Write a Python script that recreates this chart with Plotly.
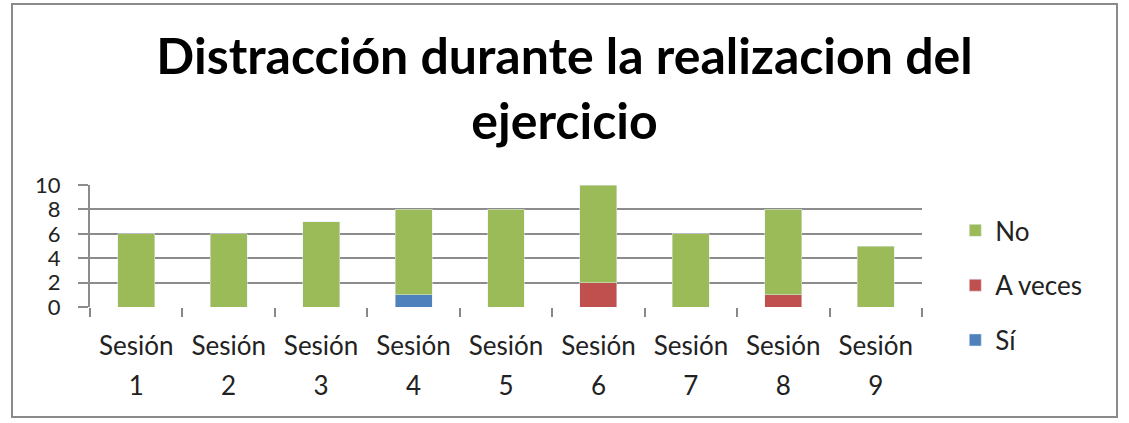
import plotly.graph_objects as go

categories = ["Sesión 1", "Sesión 2", "Sesión 3", "Sesión 4", "Sesión 5",
              "Sesión 6", "Sesión 7", "Sesión 8", "Sesión 9"]
si = [0, 0, 0, 1, 0, 0, 0, 0, 0]
a_veces = [0, 0, 0, 0, 0, 2, 0, 1, 0]
no = [6, 6, 7, 7, 8, 8, 6, 7, 5]
y_ticks = [0, 2, 4, 6, 8, 10]

line1 = [c.split(" ")[0] for c in categories]
line2 = [c.split(" ")[1] for c in categories]

FONT = "Lato"
fig = go.Figure()
fig.add_bar(x=categories, y=si, name="Sí", marker_color="#4F81BD", legendgroup="a", legendrank=3)
fig.add_bar(x=categories, y=a_veces, name="A veces", marker_color="#C0504D", legendgroup="b", legendrank=2)
fig.add_bar(x=categories, y=no, name="No", marker_color="#9BBB59", legendgroup="c", legendrank=1)

fig.update_layout(
    width=1129, height=423,
    barmode="stack", bargap=0.6,
    paper_bgcolor="white", plot_bgcolor="white",
    margin=dict(l=90, r=207, t=185, b=116),
    font=dict(family=FONT, color="#222", size=26),
    title=dict(text="<b>Distracción durante la realizacion del<br>ejercicio</b>",
               x=0.5, xanchor="center", y=0.826, yanchor="middle",
               font=dict(size=50, color="#000", family=FONT)),
    legend=dict(x=1.04, xanchor="left", y=0.82, yanchor="top",
                traceorder="grouped", tracegroupgap=18, maxheight=400,
                font=dict(size=26, family=FONT), bgcolor="rgba(0,0,0,0)"),
    showlegend=True,
    xaxis=dict(type="category", categoryarray=categories, tickvals=categories, ticktext=line1,
               tickson="boundaries", ticks="outside", ticklen=9, tickcolor="#888", tickwidth=2,
               showline=False, showgrid=False, ticklabelstandoff=21),
    xaxis2=dict(type="category", overlaying="x", matches="x", side="bottom",
                categoryarray=categories, tickvals=categories, ticktext=line2,
                ticks="", showgrid=False, showline=False, ticklabelstandoff=61),
    yaxis=dict(range=[0, 10], tickvals=y_ticks, showgrid=True, gridcolor="#8c8c8c", gridwidth=2,
               showline=True, linecolor="#8c8c8c", linewidth=2, ticks="outside", ticklen=10,
               tickcolor="#8c8c8c", tickwidth=2, zeroline=False, ticklabelstandoff=13,
               tickfont=dict(size=22)),
    shapes=[dict(type="rect", xref="paper", yref="paper",
                 x0=(12 - 90) / 832, x1=(1117 - 90) / 832,
                 y0=(307 - 417) / 122, y1=(307 - 4) / 122,
                 line=dict(color="#8a8a8a", width=2), layer="below")],
)
fig.add_trace(go.Bar(x=categories, y=[0] * len(categories), xaxis="x2", showlegend=False,
                     hoverinfo="skip", marker_color="rgba(0,0,0,0)", legendgroup="z"))
fig.write_html("out.html")
